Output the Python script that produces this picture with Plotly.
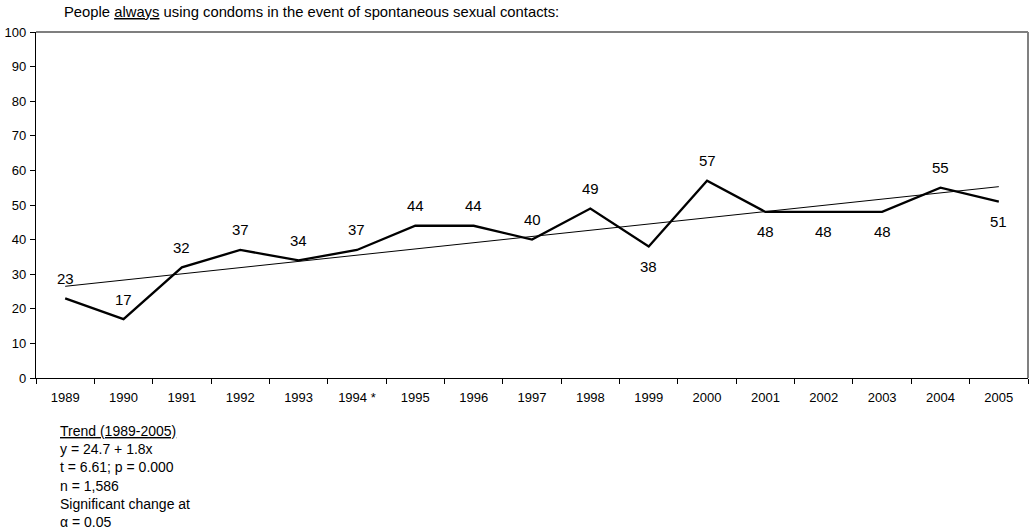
import plotly.graph_objects as go

# Survey years and share (%) of people always using condoms
years = ["1989", "1990", "1991", "1992", "1993", "1994 *", "1995", "1996", "1997",
         "1998", "1999", "2000", "2001", "2002", "2003", "2004", "2005"]
share = [23, 17, 32, 37, 34, 37, 44, 44, 40, 49, 38, 57, 48, 48, 48, 55, 51]
# label placement for each point: +1 above, -1 below
label_side = [1, 1, 1, 1, 1, 1, 1, 1, 1, 1, -1, 1, -1, -1, -1, 1, -1]

# Linear trend coefficients (x = 1 for the first year)
trend_intercept = 24.7
trend_slope = 1.8

FONT = "Liberation Sans, Arial, sans-serif"

fig = go.Figure()

fig.add_trace(go.Scatter(x=years, y=share, mode="lines",
                         line=dict(color="black", width=2.3)))

# trend line, evaluated at first and last year
trend_x = [years[0], years[-1]]
trend_y = [trend_intercept + trend_slope * 1, trend_intercept + trend_slope * len(years)]
fig.add_trace(go.Scatter(x=trend_x, y=trend_y, mode="lines",
                         line=dict(color="black", width=1), hoverinfo="skip"))

annotations = []
for i, (v, side) in enumerate(zip(share, label_side)):
    annotations.append(dict(x=i, y=v, xref="x", yref="y", text=str(v), showarrow=False,
                            yshift=20 * side, font=dict(family=FONT, size=15, color="black")))

annotations.append(dict(
    x=0.0262, y=1.058, xref="paper", yref="paper", xanchor="left", yanchor="middle",
    text="People <u>always</u> using condoms in the event of spontaneous sexual contacts:",
    showarrow=False, font=dict(family=FONT, size=14.8, color="black")))

annotations.append(dict(
    x=0.0222, y=-0.125, xref="paper", yref="paper", xanchor="left", yanchor="top",
    align="left", showarrow=False,
    text=("<u>Trend (1989-2005)</u><br>"
          f"y = {trend_intercept} + {trend_slope}x<br>"
          "t = 6.61; p = 0.000<br>"
          "n = 1,586<br>"
          "Significant change at<br>"
          "α = 0.05"),
    font=dict(family=FONT, size=14, color="black")))

fig.update_layout(
    width=1030, height=531,
    margin=dict(l=36, r=2, t=32, b=153),
    paper_bgcolor="white", plot_bgcolor="white",
    showlegend=False,
    annotations=annotations,
    shapes=[
        dict(type="line", xref="paper", yref="paper", x0=0, x1=1, y0=1, y1=1,
             line=dict(color="black", width=1.2)),
        dict(type="line", xref="paper", yref="paper", x0=1, x1=1, y0=0, y1=1,
             line=dict(color="#808080", width=2)),
    ],
)

fig.update_xaxes(type="category", categoryorder="array", categoryarray=years,
                 range=[-0.5, len(years) - 0.5],
                 showline=True, linecolor="black", linewidth=1.2,
                 ticks="outside", tickson="boundaries", ticklen=5, tickcolor="black",
                 ticklabelstandoff=7,
                 showgrid=False, zeroline=False,
                 tickfont=dict(family=FONT, size=13, color="black"))
fig.update_yaxes(range=[0, 100], dtick=10,
                 showline=True, linecolor="black", linewidth=1.2,
                 ticks="outside", ticklen=5, tickcolor="black",
                 ticklabelstandoff=1,
                 showgrid=False, zeroline=False,
                 tickfont=dict(family=FONT, size=13, color="black"))

fig.write_html("out.html")
